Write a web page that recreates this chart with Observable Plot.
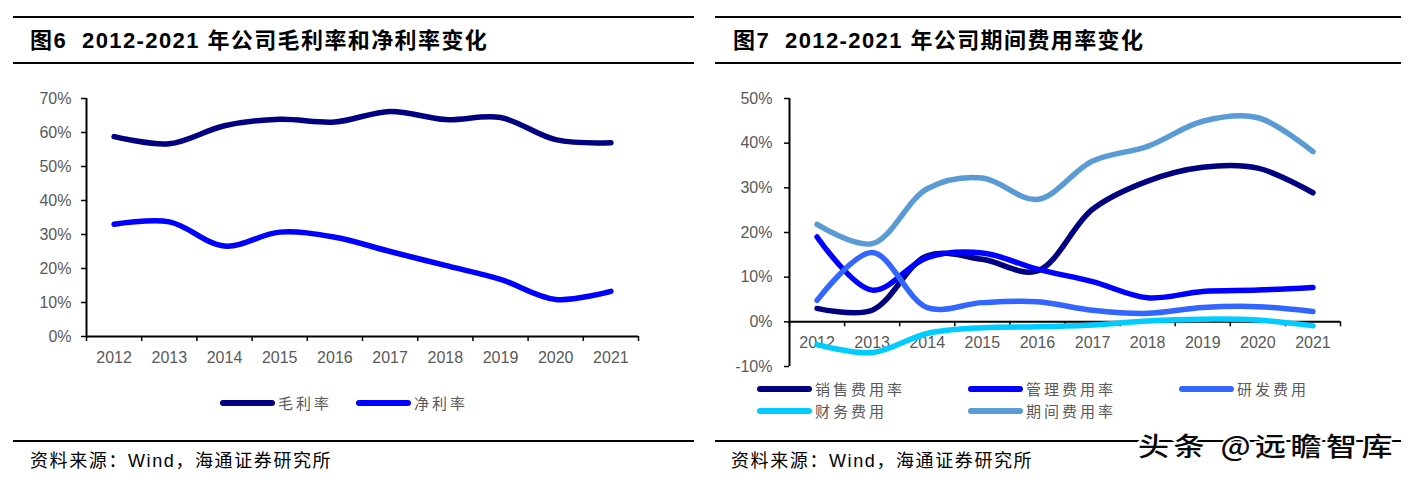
<!DOCTYPE html>
<html><head><meta charset="utf-8">
<script src="https://cdn.jsdelivr.net/npm/d3@7"></script>
<script src="https://cdn.jsdelivr.net/npm/@observablehq/plot@0.6"></script>
<style>
body{margin:0;background:#fff;width:1415px;height:483px;overflow:hidden;position:relative;font-family:"Liberation Sans","Noto Sans CJK SC",sans-serif;}
.rule{position:absolute;height:2px;background:#000;}
.title{position:absolute;top:27px;height:28px;line-height:28px;font-size:22px;font-weight:bold;color:#000;letter-spacing:1.4px;white-space:nowrap;}
.chart{position:absolute;top:0;}
.leg{position:absolute;height:18px;line-height:18px;display:flex;align-items:center;font-family:"Noto Sans CJK SC",sans-serif;font-size:15px;color:#595959;letter-spacing:3px;white-space:nowrap;}
.sw{display:inline-block;width:55px;height:6px;border-radius:3px;margin-right:3px;}
.cap{position:absolute;top:450px;height:22px;line-height:22px;font-size:18px;color:#000;letter-spacing:1.6px;white-space:nowrap;}
.wm{position:absolute;left:1138px;top:426px;height:38px;line-height:38px;font-family:"Noto Sans CJK SC",sans-serif;font-weight:500;font-size:31px;color:#0a0a0a;letter-spacing:4.5px;white-space:nowrap;-webkit-text-stroke:4px #fff;paint-order:stroke fill;transform:scaleY(0.85);transform-origin:left center;}
</style></head>
<body>
<script>
// ---------- data ----------
const years = [2012, 2013, 2014, 2015, 2016, 2017, 2018, 2019, 2020, 2021];
const yTicksLeft = [0, 10, 20, 30, 40, 50, 60, 70];
const yTicksRight = [-10, 0, 10, 20, 30, 40, 50];

const leftNames = ["毛利率", "净利率"];
const grossMargin = [58.8, 56.7, 62.0, 63.9, 63.1, 66.2, 63.8, 64.4, 57.9, 57.0];
const netMargin   = [33.0, 33.7, 26.6, 30.7, 29.2, 25.0, 20.9, 16.8, 10.9, 13.3];
const leftColors = ["#000080", "#0000ff"];

const rightNames = ["销售费用率", "管理费用率", "研发费用", "财务费用", "期间费用率"];
const salesExp   = [3.0, 2.6, 14.8, 14.0, 11.4, 25.2, 31.5, 34.6, 34.4, 28.9];
const adminExp   = [19.0, 7.1, 14.4, 15.4, 11.8, 9.0, 5.4, 6.8, 7.1, 7.7];
const rdExp      = [4.8, 15.5, 3.2, 4.3, 4.5, 2.6, 1.9, 3.2, 3.4, 2.3];
const finExp     = [-5.1, -6.9, -2.6, -1.3, -1.1, -0.7, 0.2, 0.6, 0.4, -0.9];
const periodExp  = [21.8, 17.5, 29.8, 32.2, 27.4, 36.0, 39.3, 44.9, 45.7, 38.1];
const rightColors = ["#000080", "#0000ff", "#3366ff", "#00ccff", "#5b9bd5"];

const titleLeft = "图6&nbsp;&nbsp;2012-2021 年公司毛利率和净利率变化";
const titleRight = "图7&nbsp;&nbsp;2012-2021 年公司期间费用率变化";
const caption = "资料来源：Wind，海通证券研究所";
const watermark = "头条 @远瞻智库";

// ---------- helpers ----------
const boundaries = years.map(y => y - 0.5).concat([years[years.length - 1] + 0.5]);
function rows(series) {
  return series.map(s => years.map((yr, i) => ({year: yr, value: s[i]})));
}
function el(cls, style, html) {
  const d = document.createElement("div");
  d.className = cls;
  Object.assign(d.style, style);
  if (html != null) d.innerHTML = html;
  document.body.appendChild(d);
  return d;
}
const axisStyle = {fontFamily: "Liberation Sans, sans-serif", fontSize: "16px", color: "#595959", background: "transparent", overflow: "visible"};

// ---------- left chart ----------
const leftData = rows([grossMargin, netMargin]);
const left = Plot.plot({
  width: 700, height: 372,
  marginLeft: 86, marginRight: 62, marginTop: 98, marginBottom: 36,
  x: {domain: [boundaries[0], boundaries[boundaries.length - 1]]},
  y: {domain: [0, 70]},
  style: axisStyle,
  marks: [
    Plot.axisY({ticks: yTicksLeft, tickSize: 5, tickPadding: 10, tickFormat: d => d + "%", stroke: "#000", strokeWidth: 1.5, label: null}),
    Plot.axisX({ticks: boundaries, tickSize: 5, tickFormat: () => "", stroke: "#000", strokeWidth: 1.5, label: null}),
    Plot.axisX({ticks: years, tickSize: 0, tickPadding: 15, tickFormat: d => String(d), label: null}),
    Plot.ruleX([boundaries[0]], {stroke: "#000", strokeWidth: 2}),
    Plot.ruleY([0], {stroke: "#000", strokeWidth: 2}),
    ...leftData.map((d, k) => Plot.line(d, {x: "year", y: "value", stroke: leftColors[k], strokeWidth: 5.5, strokeLinecap: "round", curve: "catmull-rom"}))
  ]
});
left.classList.add("chart");
left.style.left = "0px";
document.body.appendChild(left);

// ---------- right chart ----------
const rightData = rows([salesExp, adminExp, rdExp, finExp, periodExp]);
const right = Plot.plot({
  width: 700, height: 372,
  marginLeft: 89, marginRight: 60, marginTop: 98, marginBottom: 6,
  x: {domain: [boundaries[0], boundaries[boundaries.length - 1]]},
  y: {domain: [-10, 50]},
  style: axisStyle,
  marks: [
    Plot.axisY({ticks: yTicksRight, tickSize: 5, tickPadding: 12, tickFormat: d => d + "%", stroke: "#000", strokeWidth: 1.5, label: null}),
    Plot.axisX({ticks: [], label: null}),
    Plot.text(years, {x: d => d, y: 0, text: d => String(d), dy: 21, fill: "#595959", fontSize: 16}),
    Plot.ruleX(boundaries, {x: d => d, y1: 0, y2: 0, insetBottom: -5, stroke: "#000", strokeWidth: 1.5}),
    Plot.ruleX([boundaries[0]], {stroke: "#000", strokeWidth: 2}),
    Plot.ruleY([0], {stroke: "#000", strokeWidth: 2}),
    ...rightData.map((d, k) => Plot.line(d, {x: "year", y: "value", stroke: rightColors[k], strokeWidth: 5.5, strokeLinecap: "round", curve: "catmull-rom"}))
  ]
});
right.classList.add("chart");
right.style.left = "700px";
document.body.appendChild(right);

// ---------- frame, titles, legends, captions ----------
el("rule", {left: "13px", width: "681px", top: "16px"});
el("rule", {left: "13px", width: "681px", top: "62px"});
el("rule", {left: "13px", width: "681px", top: "440px"});
el("rule", {left: "715px", width: "686px", top: "16px"});
el("rule", {left: "715px", width: "686px", top: "62px"});
el("rule", {left: "715px", width: "686px", top: "440px"});

el("title", {left: "30px"}, titleLeft);
el("title", {left: "733px"}, titleRight);

// left legend
const leftLegendX = [220, 356];
leftNames.forEach((n, k) => {
  el("leg", {left: leftLegendX[k] + "px", top: "394px"}, `<span class="sw" style="background:${leftColors[k]}"></span>${n}`);
});
// right legend
const rightLegendPos = [[757, 380], [968, 380], [1179, 380], [757, 402], [968, 402]];
rightNames.forEach((n, k) => {
  el("leg", {left: rightLegendPos[k][0] + "px", top: rightLegendPos[k][1] + "px"}, `<span class="sw" style="background:${rightColors[k]}"></span>${n}`);
});

el("cap", {left: "30px"}, caption);
el("cap", {left: "731px"}, caption);
el("wm", {}, watermark);
</script>
</body></html>
